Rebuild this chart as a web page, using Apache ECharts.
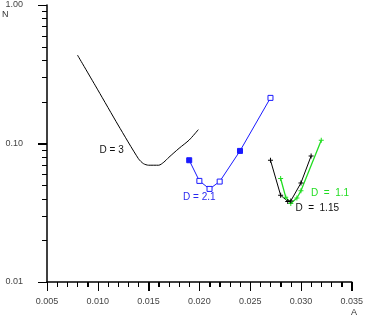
<!DOCTYPE html>
<html>
<head>
<meta charset="utf-8">
<script src="https://cdn.jsdelivr.net/npm/echarts@6/dist/echarts.min.js"></script>
<style>
html, body { margin: 0; padding: 0; background: #fff; }
#chart { width: 366px; height: 322px; }
</style>
</head>
<body>
<div id="chart"></div>
<script>
// D = 3 (plain line)
const d3A = [0.008, 0.010, 0.012, 0.014, 0.0145, 0.015, 0.016, 0.0165, 0.017, 0.018, 0.019, 0.0199]
const d3N = [0.435, 0.244, 0.136, 0.0777, 0.0715, 0.0697, 0.0697, 0.0733, 0.0795, 0.0923, 0.106, 0.126]
// D = 2.1 (squares)
const d21A = [0.019, 0.020, 0.021, 0.022, 0.024, 0.027]
const d21N = [0.0757, 0.0537, 0.047, 0.0531, 0.0884, 0.2135]
const d21Filled = [0, 4]
// D = 1.15 (black crosses)
const d115A = [0.027, 0.028, 0.0287, 0.029, 0.030, 0.031]
const d115N = [0.0757, 0.0423, 0.0382, 0.0385, 0.0519, 0.0813]
// D = 1.1 (green crosses)
const d11A = [0.028, 0.0285, 0.029, 0.0296, 0.030, 0.032]
const d11N = [0.0559, 0.041, 0.0369, 0.0404, 0.0455, 0.1056]

// tick positions
const xMajor = [0.005, 0.010, 0.015, 0.020, 0.025, 0.030, 0.035]
const xMinor = [0.006, 0.007, 0.008, 0.009, 0.011, 0.012, 0.013, 0.014, 0.016, 0.017, 0.018, 0.019,
    0.021, 0.022, 0.023, 0.024, 0.026, 0.027, 0.028, 0.029, 0.031, 0.032, 0.033, 0.034]
const yMajor = [0.01, 0.1, 1]
const yMinor = [0.02, 0.03, 0.04, 0.05, 0.06, 0.07, 0.08, 0.09, 0.2, 0.3, 0.4, 0.5, 0.6, 0.7, 0.8, 0.9]

// curve labels: [text, A, N]
const notes = [
    ['D = 3', 0.01136, 0.0894],
    ['D = 2.1', 0.0200, 0.0409],
    ['D  =  1.1', 0.03287, 0.0437],
    ['D  =  1.15', 0.0316, 0.0341]
]

const zip = (a, b) => a.map((v, i) => [v, b[i]])
const plus = 'path://M2,0L3,0L3,2L5,2L5,3L3,3L3,5L2,5L2,3L0,3L0,2L2,2Z'
const font = 'Liberation Sans, Arial, sans-serif'

function note(i, color) {
    return {
        silent: true,
        symbolSize: 0,
        label: { show: true, position: 'inside', formatter: notes[i][0], color: color, fontSize: 10, fontFamily: font },
        data: [{ coord: [notes[i][1], notes[i][2]] }]
    }
}

// tick marks through the axes' scales: [A, N, length, 0 = x axis / 1 = y axis]
const tickData = []
xMajor.forEach(v => tickData.push([v, 0.01, 9, 0]))
xMinor.forEach(v => tickData.push([v, 0.01, 5, 0]))
yMajor.forEach(v => tickData.push([0.005, v, 9, 1]))
yMinor.forEach(v => tickData.push([0.005, v, 5, 1]))

let charts = echarts.init(document.getElementById('chart'))
let config = {
    animation: false,
    grid: { left: 47, right: 13, top: 5, bottom: 40 },
    title: [
        { text: 'N', left: 2, top: 10, padding: 0, textStyle: { fontSize: 9, fontWeight: 'normal', fontFamily: font, color: '#333' } },
        { text: 'A', left: 351, top: 308, padding: 0, textStyle: { fontSize: 9, fontWeight: 'normal', fontFamily: font, color: '#333' } }
    ],
    xAxis: {
        type: 'value', min: 0.005, max: 0.035, interval: 0.005,
        axisLine: { show: true, lineStyle: { color: '#000', width: 1.5 } },
        axisTick: { show: true, length: 9, lineStyle: { color: '#000', width: 1 } },
        minorTick: { show: true, splitNumber: 5, length: 5, lineStyle: { color: '#000', width: 1 } },
        axisLabel: { margin: 15, fontSize: 9, fontFamily: font, color: '#444', formatter: v => v.toFixed(3) },
        splitLine: { show: false }
    },
    yAxis: {
        type: 'log', logBase: 10, min: 0.01, max: 1,
        axisLine: { show: true, lineStyle: { color: '#000', width: 1.5 } },
        axisTick: { show: true, length: 9, lineStyle: { color: '#000', width: 1 } },
        axisLabel: { margin: 24, fontSize: 9, fontFamily: font, color: '#444', formatter: v => v.toFixed(2) },
        splitLine: { show: false }
    },
    series: [
        {
            name: 'D = 3', type: 'line', showSymbol: false, symbol: 'none', smooth: 0.25,
            lineStyle: { color: '#000', width: 1 },
            data: zip(d3A, d3N),
            markPoint: note(0, '#111')
        },
        {
            name: 'D = 2.1', type: 'line', symbol: 'rect', symbolSize: 5,
            lineStyle: { color: '#1a1aff', width: 1 },
            itemStyle: { color: '#fff', borderColor: '#1a1aff', borderWidth: 1 },
            data: zip(d21A, d21N).map((p, i) => d21Filled.includes(i)
                ? { value: p, itemStyle: { color: '#1a1aff' } } : p),
            markPoint: note(1, '#2a2af0')
        },
        {
            name: 'D = 1.1', type: 'line', symbol: plus, symbolSize: 5,
            lineStyle: { color: '#22dd22', width: 1.3 },
            itemStyle: { color: '#22dd22' },
            data: zip(d11A, d11N),
            markPoint: note(2, '#22dd22')
        },
        {
            name: 'D = 1.15', type: 'line', symbol: plus, symbolSize: 5,
            lineStyle: { color: '#000', width: 1 },
            itemStyle: { color: '#000' },
            data: zip(d115A, d115N),
            markPoint: note(3, '#111')
        },
        {
            // tick marks (also covers the log axis minor ticks)
            type: 'custom', clip: false, silent: true,
            data: tickData,
            renderItem: (params, api) => {
                const p = api.coord([api.value(0), api.value(1)])
                const len = api.value(2)
                const shape = api.value(3) === 1
                    ? { x: Math.round(p[0]) - len, y: Math.round(p[1]), width: len, height: 1 }
                    : { x: Math.round(p[0]), y: Math.round(p[1]), width: 1, height: len }
                return { type: 'rect', shape: shape, style: { fill: '#000' } }
            }
        }
    ]
}
config && charts.setOption(config)
window.addEventListener('resize', () => charts.resize())
</script>
</body>
</html>
